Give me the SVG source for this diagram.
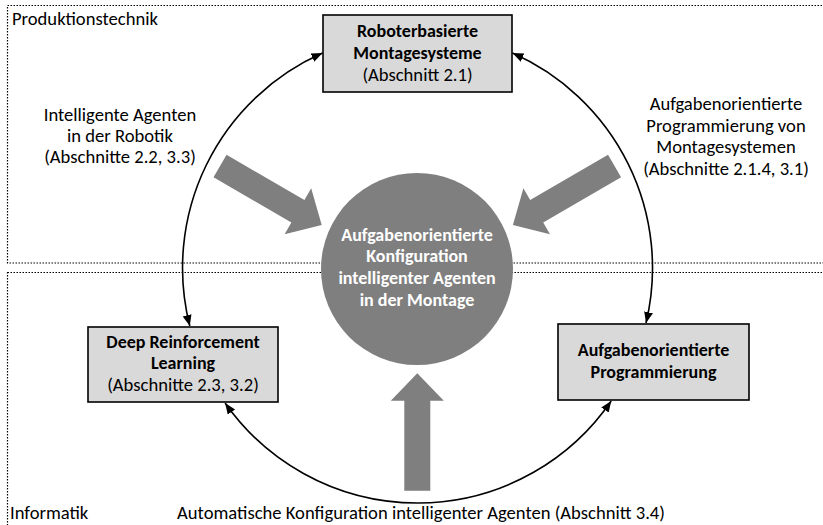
<svg xmlns="http://www.w3.org/2000/svg" width="823" height="525" viewBox="0 0 823 525">
  <style>
    text { font-family: Calibri, "Liberation Sans", Arial, sans-serif; font-size: 18.6px; fill: #000; }
    .c { text-anchor: middle; }
    .b { font-weight: bold; font-size: 18px; }
    .w { fill: #fff; font-weight: bold; font-size: 18px; }
    .zone { fill: none; stroke: #000; stroke-width: 1.2; stroke-dasharray: 1.5 1.5; }
    .box { fill: #d9d9d9; stroke: #000; stroke-width: 1.6; }
    .arc { fill: none; stroke: #000; stroke-width: 1.6; marker-start: url(#tip); marker-end: url(#tip); }
    .block { fill: #7f7f7f; }
  </style>
  <defs>
    <marker id="tip" markerUnits="userSpaceOnUse" markerWidth="12" markerHeight="10" refX="11" refY="4.5" orient="auto-start-reverse">
      <path d="M0,0 L11,4.5 L0,9 z" fill="#000"/>
    </marker>
    <!-- block arrow, tip at origin, pointing along +x -->
    <polygon id="blockArrow" points="-117.5,-13 -27.5,-13 -27.5,-26.5 0,0 -27.5,26.5 -27.5,13 -117.5,13"/>
  </defs>

  <rect width="823" height="525" fill="#fff"/>

  <!-- domain areas -->
  <g id="zone-produktion">
    <rect class="zone" x="7.5" y="5.5" width="830" height="257.5"/>
    <text x="12" y="25">Produktionstechnik</text>
  </g>
  <g id="zone-informatik">
    <rect class="zone" x="7.5" y="272.5" width="830" height="270"/>
    <text x="10" y="519">Informatik</text>
  </g>

  <!-- connectors -->
  <g id="connectors">
    <path class="arc" d="M189.8,326 A235,235 0 0 1 322.5,53.1"/>
    <path class="arc" d="M512.5,53.1 A235,235 0 0 1 646,323"/>
    <path class="arc" d="M225.1,403 A235,235 0 0 0 611.2,401"/>
    <use href="#blockArrow" class="block" transform="translate(321.7,225) rotate(30.1)"/>
    <use href="#blockArrow" class="block" transform="translate(512.9,225) rotate(149.9)"/>
    <use href="#blockArrow" class="block" transform="translate(417.3,373.3) rotate(-90)"/>
  </g>

  <!-- edge labels -->
  <g id="label-robotik">
    <text class="c" x="120" y="121">Intelligente Agenten</text>
    <text class="c" x="120" y="142">in der Robotik</text>
    <text class="c" x="120" y="163">(Abschnitte 2.2, 3.3)</text>
  </g>
  <g id="label-programmierung">
    <text class="c" x="726" y="110">Aufgabenorientierte</text>
    <text class="c" x="726" y="131.5">Programmierung von</text>
    <text class="c" x="726" y="153">Montagesystemen</text>
    <text class="c" x="726" y="174.5">(Abschnitte 2.1.4, 3.1)</text>
  </g>
  <g id="label-konfiguration">
    <text class="c" x="421" y="519">Automatische Konfiguration intelligenter Agenten (Abschnitt 3.4)</text>
  </g>

  <!-- nodes -->
  <g id="node-montagesysteme">
    <rect class="box" x="323" y="15" width="189" height="77"/>
    <text class="c b" x="417.5" y="37">Roboterbasierte</text>
    <text class="c b" x="417.5" y="59">Montagesysteme</text>
    <text class="c" x="417.5" y="80.5">(Abschnitt 2.1)</text>
  </g>
  <g id="node-drl">
    <rect class="box" x="88" y="327" width="190" height="75"/>
    <text class="c b" x="183" y="348">Deep Reinforcement</text>
    <text class="c b" x="183" y="369">Learning</text>
    <text class="c" x="183" y="390.5">(Abschnitte 2.3, 3.2)</text>
  </g>
  <g id="node-programmierung">
    <rect class="box" x="558" y="324" width="191" height="76"/>
    <text class="c b" x="653.5" y="356">Aufgabenorientierte</text>
    <text class="c b" x="653.5" y="378">Programmierung</text>
  </g>
  <g id="node-zentrum">
    <circle cx="417" cy="269" r="96" fill="#7f7f7f"/>
    <text class="c w" x="417" y="240.5">Aufgabenorientierte</text>
    <text class="c w" x="417" y="262">Konfiguration</text>
    <text class="c w" x="417" y="284">intelligenter Agenten</text>
    <text class="c w" x="417" y="306">in der Montage</text>
  </g>
</svg>
